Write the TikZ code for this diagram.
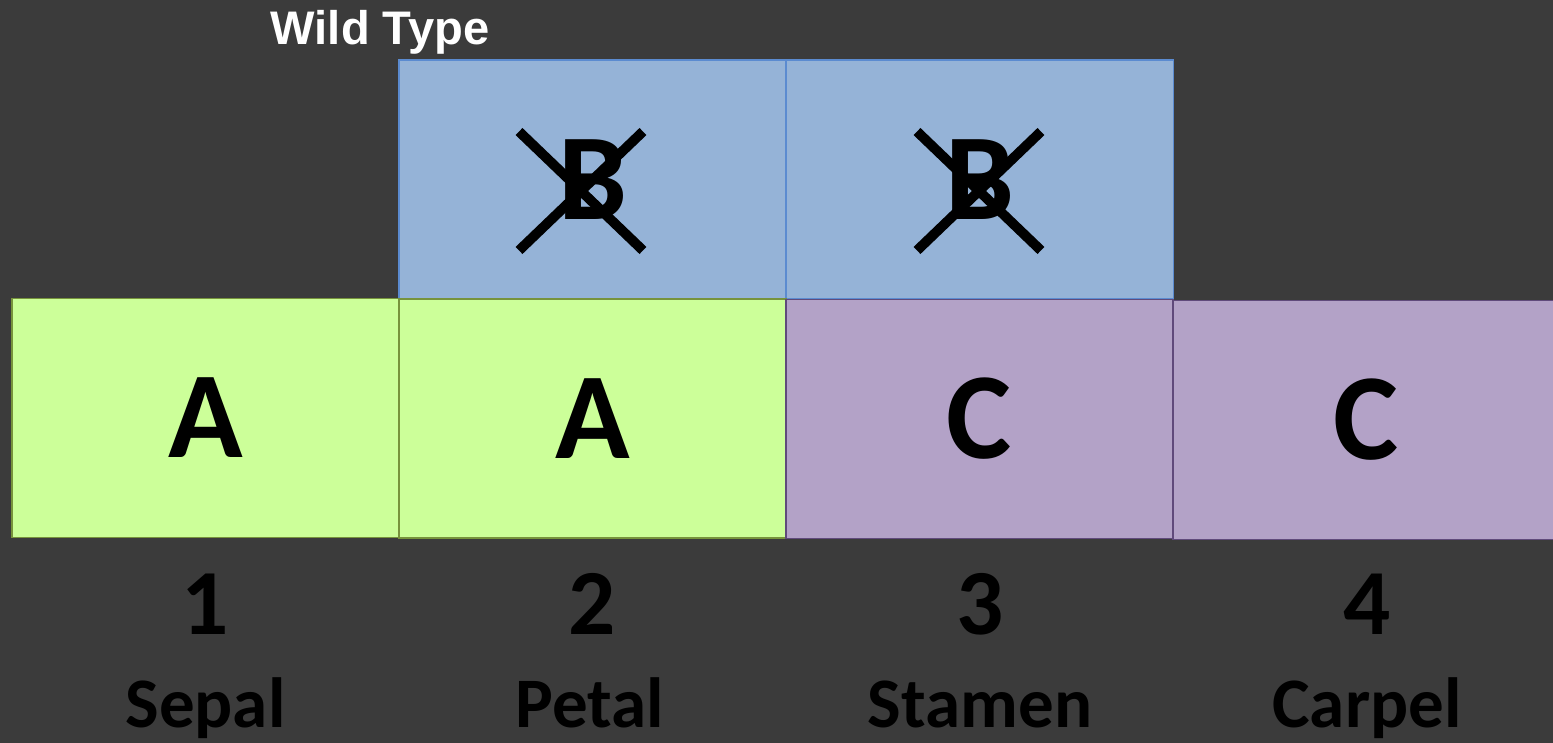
\documentclass[tikz,border=0pt]{standalone}
\usepackage{fontspec}
\setmainfont{Carlito}
\newfontfamily\arialfont{Liberation Sans}
\usetikzlibrary{shapes.misc}
\definecolor{bgGray}{HTML}{3B3B3B}
\definecolor{bFill}{HTML}{95B3D7}
\definecolor{bLine}{HTML}{5B8BD0}
\definecolor{aFill}{HTML}{CCFF99}
\definecolor{aLine}{HTML}{77933C}
\definecolor{cFill}{HTML}{B3A2C7}
\definecolor{cLine}{HTML}{604A7B}
\begin{document}
\begin{tikzpicture}[x=0.01cm, y=-0.01cm,
    whorl/.style={draw, line width=0.5pt, minimum width=3.87cm, minimum height=2.39cm,
        inner sep=0pt, font=\fontsize{35}{35}\selectfont\bfseries},
    knockout/.style={cross out, draw=black, line width=2.8pt, inner sep=0pt,
        minimum width=1.14cm, minimum height=1.09cm},
    whorlnum/.style={anchor=base, text=black, font=\fontsize{26.5}{26.5}\selectfont\bfseries},
    whorlname/.style={anchor=base, text=black, font=\fontsize{20.2}{20.2}\selectfont\bfseries}]
    % background
    \fill[bgGray] (0,0) rectangle (1553,743);
    \clip (0,0) rectangle (1553,743);
    \node[anchor=base west, text=white, inner sep=0pt, font=\arialfont\fontsize{13.4}{13.4}\selectfont\bfseries]
        (title) at (270,45) {Wild Type};
    % B class genes, knocked out
    \node[whorl, fill=bFill, draw=bLine] (b1) at (592.5,179.5) {B};
    \node[whorl, fill=bFill, draw=bLine] (b2) at (980,179.5) {B};
    \node[knockout] (x1) at (581,191) {};
    \node[knockout] (x2) at (979,191) {};
    % A and C class genes
    \node[whorl, fill=aFill, draw=aLine] (a1) at (205.5,418) {A};
    \node[whorl, fill=aFill, draw=aLine] (a2) at (592.5,418.5) {A};
    \node[whorl, fill=cFill, draw=cLine] (c1) at (979.5,419) {C};
    \node[whorl, fill=cFill, draw=cLine] (c2) at (1366.5,420) {C};
    % whorls
    \node[whorlnum] (n1) at (205.5,635) {1};
    \node[whorlnum] (n2) at (592.5,635) {2};
    \node[whorlnum] (n3) at (980,635) {3};
    \node[whorlnum] (n4) at (1367,635) {4};
    \node[whorlname] (w1) at (205.5,728) {Sepal};
    \node[whorlname] (w2) at (590,728) {Petal};
    \node[whorlname] (w3) at (980,728) {Stamen};
    \node[whorlname] (w4) at (1367,728) {Carpel};
\end{tikzpicture}
\end{document}
